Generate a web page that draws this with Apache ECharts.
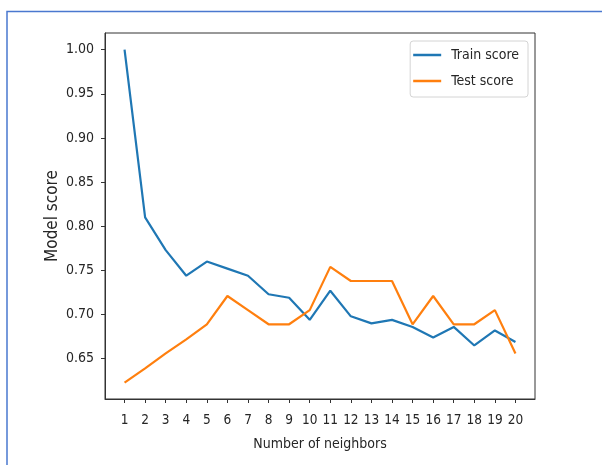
<!DOCTYPE html>
<html>
<head>
<meta charset="utf-8">
<script src="https://cdn.jsdelivr.net/npm/echarts@6/dist/echarts.min.js"></script>
<style>
  html, body { margin: 0; padding: 0; background: #fff; }
  #chart { width: 602px; height: 465px; }
</style>
</head>
<body>
<div id="chart"></div>
<script>
// k values for the nearest-neighbour model
const neighbors = [1, 2, 3, 4, 5, 6, 7, 8, 9, 10, 11, 12, 13, 14, 15, 16, 17, 18, 19, 20];
const trainScores = [1.000, 0.810, 0.773, 0.744, 0.760, 0.752, 0.744, 0.723, 0.719, 0.694,
                     0.727, 0.698, 0.690, 0.694, 0.686, 0.674, 0.686, 0.665, 0.682, 0.669];
const testScores = [0.623, 0.639, 0.656, 0.672, 0.689, 0.721, 0.705, 0.689, 0.689, 0.705,
                    0.754, 0.738, 0.738, 0.738, 0.689, 0.721, 0.689, 0.689, 0.705, 0.656];
const yTicks = [0.65, 0.70, 0.75, 0.80, 0.85, 0.90, 0.95, 1.00];
const seriesNames = ['Train score', 'Test score'];

const FONT = '"Liberation Sans Narrow", "DejaVu Sans Condensed", sans-serif';
const INK = '#262626';

const pairs = (ys) => neighbors.map((k, i) => [k, ys[i]]);

const chart = echarts.init(document.getElementById('chart'), null, { renderer: 'canvas' });
chart.setOption({
  animation: false,
  backgroundColor: '#fff',
  grid: {
    left: 105, top: 33, right: 67, bottom: 66,
    show: true, borderColor: '#333', borderWidth: 1, backgroundColor: 'transparent'
  },
  legend: {
    data: seriesNames,
    orient: 'vertical',
    right: 74, top: 41,
    icon: 'rect',
    itemWidth: 28, itemHeight: 2.5,
    itemGap: 8,
    padding: [5, 9, 7, 3],
    backgroundColor: 'rgba(255,255,255,0.8)',
    borderColor: '#d4d4d4', borderWidth: 1, borderRadius: 3,
    textStyle: { fontFamily: FONT, fontSize: 14, color: INK, lineHeight: 18, padding: [0, 0, 0, 5] }
  },
  xAxis: {
    type: 'value',
    min: 0.05, max: 20.95,
    name: 'Number of neighbors',
    nameLocation: 'middle', nameGap: 38, nameMoveOverlap: false,
    nameTextStyle: { fontFamily: FONT, fontSize: 14, color: INK },
    axisLine: { show: true, onZero: false, lineStyle: { color: '#333', width: 1 } },
    axisTick: { show: true, inside: false, length: 4, customValues: neighbors, lineStyle: { color: '#333' } },
    axisLabel: { customValues: neighbors, margin: 14, fontFamily: FONT, fontSize: 13.5, color: INK },
    splitLine: { show: false }
  },
  yAxis: {
    type: 'value',
    min: 0.6044, max: 1.0188,
    name: 'Model score',
    nameLocation: 'middle', nameGap: 44, nameMoveOverlap: false,
    nameTextStyle: { fontFamily: FONT, fontSize: 17, color: INK },
    axisLine: { show: true, onZero: false, lineStyle: { color: '#333', width: 1 } },
    axisTick: { show: true, inside: false, length: 4, customValues: yTicks, lineStyle: { color: '#333' } },
    axisLabel: {
      customValues: yTicks, margin: 11, fontFamily: FONT, fontSize: 14, color: INK,
      formatter: (v) => Number(v).toFixed(2)
    },
    splitLine: { show: false }
  },
  series: [
    {
      name: seriesNames[0], type: 'line', data: pairs(trainScores),
      showSymbol: false, symbol: 'none',
      lineStyle: { color: '#1f77b4', width: 2.2 }, itemStyle: { color: '#1f77b4' }
    },
    {
      name: seriesNames[1], type: 'line', data: pairs(testScores),
      showSymbol: false, symbol: 'none',
      lineStyle: { color: '#ff7f0e', width: 2.2 }, itemStyle: { color: '#ff7f0e' }
    }
  ],
  graphic: [
    // page frame along the top and left edges
    { type: 'polyline', silent: true,
      shape: { points: [[7, 465], [7, 11.5], [602, 11.5]] },
      style: { stroke: '#4a78cf', lineWidth: 1.5, fill: null } }
  ]
});
</script>
</body>
</html>
